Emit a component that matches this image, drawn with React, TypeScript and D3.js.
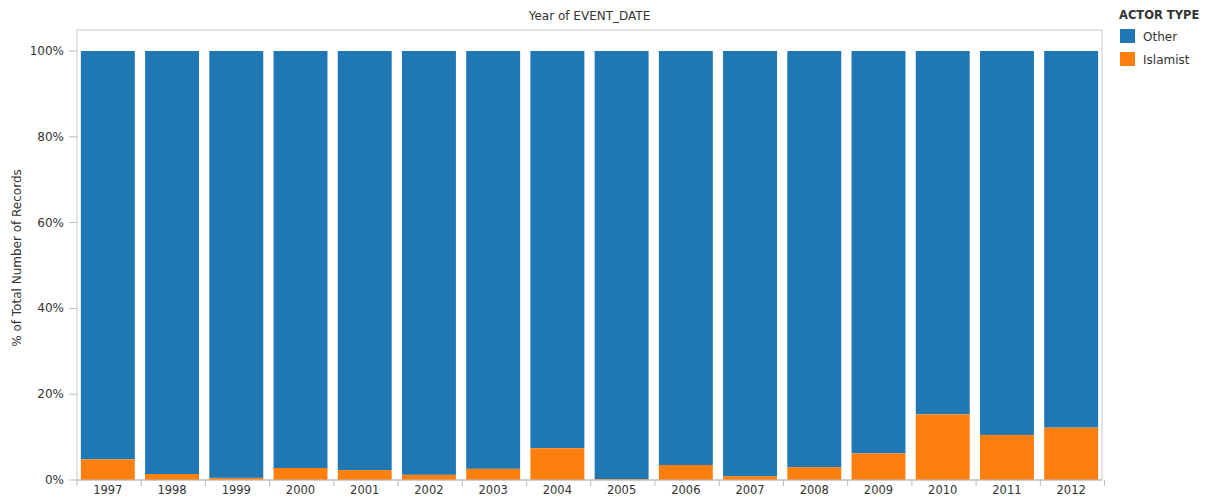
import React from "react";
import * as d3 from "d3";

const years = ["1997","1998","1999","2000","2001","2002","2003","2004","2005","2006","2007","2008","2009","2010","2011","2012"];
const islamistPct = [4.8, 1.4, 0.5, 2.8, 2.3, 1.2, 2.6, 7.4, 0.2, 3.5, 0.9, 3.0, 6.2, 15.3, 10.5, 12.2];
const otherPct = islamistPct.map((v) => 100 - v);
const yTicks = [0, 20, 40, 60, 80, 100];
const seriesNames = ["Other", "Islamist"];
const colors = ["#1f77b4", "#ff7f0e"];

export default function App() {
  const W = 1213, H = 498;
  const left = 77, right = 1102, top = 30, bottom = 480;
  const x = d3.scaleBand<string>().domain(years).range([left, right]).paddingInner(0.16).paddingOuter(0.06);
  const y = d3.scaleLinear().domain([0, 100]).range([bottom, 51]);
  const font = "'DejaVu Sans', Verdana, sans-serif";
  const step = x.step();
  return (
    <svg width={W} height={H} style={{ position: "absolute", left: 0, top: 0, background: "#fff" }} fontFamily={font}>
      <rect x={left} y={top} width={right - left} height={bottom - top} fill="none" stroke="#c8c8c8" strokeWidth={1} />
      <text x={(left + right) / 2} y={20} textAnchor="middle" fontSize={12} fill="#333">Year of EVENT_DATE</text>
      <text transform={`translate(21,${258}) rotate(-90)`} textAnchor="middle" fontSize={12} fill="#333">% of Total Number of Records</text>
      {yTicks.map((t) => (
        <g key={t}>
          <line x1={left - 8} x2={left} y1={y(t)} y2={y(t)} stroke="#bbb" />
          <text x={left - 13} y={y(t) + 4} textAnchor="end" fontSize={12} fill="#333">{t}%</text>
        </g>
      ))}
      {years.map((yr, i) => {
        const bx = x(yr)!;
        return (
          <g key={yr}>
            <rect x={bx} y={y(100)} width={x.bandwidth()} height={y(islamistPct[i]) - y(100)} fill={colors[0]} />
            <rect x={bx} y={y(islamistPct[i])} width={x.bandwidth()} height={y(0) - y(islamistPct[i])} fill={colors[1]} />
            <text x={bx + x.bandwidth() / 2} y={494} textAnchor="middle" fontSize={11.5} fill="#333">{yr}</text>
          </g>
        );
      })}
      {d3.range(years.length + 1).map((k) => (
        <line key={k} x1={left + k * step} x2={left + k * step} y1={bottom} y2={bottom + 6} stroke="#bbb" />
      ))}
      <line x1={left} x2={right} y1={bottom} y2={bottom} stroke="#bbb" />
      <text x={1119} y={19} fontSize={11.5} fontWeight="bold" fill="#333">ACTOR TYPE</text>
      {seriesNames.map((s, i) => (
        <g key={s}>
          <rect x={1120} y={29 + i * 23} width={15} height={14} fill={colors[i]} />
          <text x={1143} y={41 + i * 23} fontSize={12} fill="#333">{s}</text>
        </g>
      ))}
      <text display="none">{otherPct.join(",")}</text>
    </svg>
  );
}
